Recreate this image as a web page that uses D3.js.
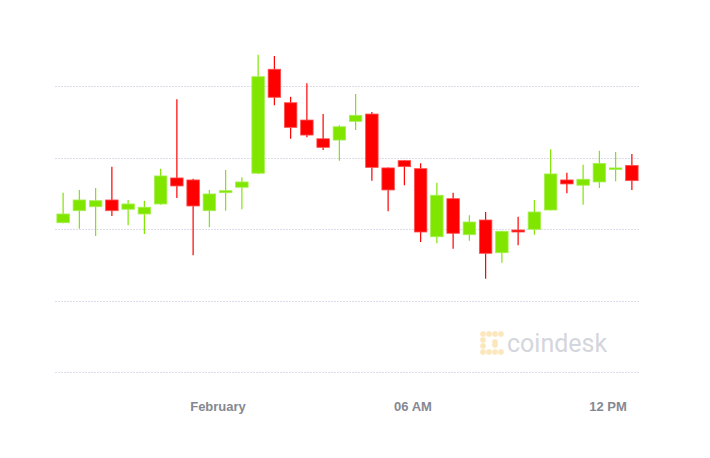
<!DOCTYPE html>
<html><head><meta charset="utf-8">
<script src="https://cdn.jsdelivr.net/npm/d3@7"></script>
<style>
html,body{margin:0;padding:0;background:#fff;}
svg{display:block;}
</style></head>
<body>
<svg id="chart" width="710" height="458"></svg>
<script>
// Half-hour candles starting Jan 31 19:00 UTC
const startTime = Date.UTC(2021, 0, 31, 19, 0);
const opens  = [34044,34128,34156,34203,34138,34105,34175,34357,34343,34128,34254,34292,34390,35117,34883,34762,34631,34622,34753,34804,34427,34478,34422,33946,34212,33960,34063,33834,33993,33998,34133,34343,34306,34329,34420,34445];
const highs  = [34254,34273,34287,34436,34203,34198,34422,34907,34352,34273,34413,34362,35219,35210,34925,35019,34804,34725,34944,34818,34430,34480,34459,34324,34254,34096,34119,33988,34086,34203,34557,34394,34450,34548,34538,34524];
const lows   = [34040,34002,33951,34091,34026,33965,34170,34217,33816,34012,34128,34138,34385,34865,34631,34641,34552,34478,34692,34338,34124,34306,33909,33900,33862,33918,33652,33764,33886,33960,34130,34250,34170,34287,34334,34273];
const closes = [34105,34203,34198,34128,34175,34152,34371,34301,34161,34245,34268,34329,35065,34921,34711,34657,34571,34715,34795,34431,34273,34436,33979,34236,33970,34049,33830,33984,33979,34119,34385,34315,34348,34459,34427,34338];
const gridValues = [35000, 34500, 34000, 33500, 33000];
const tickTimes = [Date.UTC(2021,1,1,0), Date.UTC(2021,1,1,6), Date.UTC(2021,1,1,12)];
const tickLabels = ["February", "06 AM", "12 PM"];

const HALF = 30*60*1000;
const candles = opens.map((o,i)=>({t:new Date(startTime + i*HALF), o, h:highs[i], l:lows[i], c:closes[i]}));

const svg = d3.select("#chart");
const x = d3.scaleUtc()
  .domain([new Date(startTime), new Date(Date.UTC(2021,1,1,13))])
  .range([55, 640]);
const y = d3.scaleLinear().domain([33000, 35000]).range([372, 86]);

// grid
svg.append("g").selectAll("line").data(gridValues).join("line")
  .attr("x1", 55).attr("x2", 640)
  .attr("y1", d=>Math.round(y(d))+0.5).attr("y2", d=>Math.round(y(d))+0.5)
  .attr("stroke", "#dcdcea").attr("stroke-width", 1)
  .attr("stroke-dasharray", "2,1");

// watermark
const wm = svg.append("g").attr("transform", "translate(480,331)");
const dots = [[3,3],[9,3],[15,3],[21,3],[3,9],[3,15],[3,21],[9,21],[15,21],[21,21],[15,11],[15,14]];
wm.selectAll("rect").data(dots).join("rect")
  .attr("x", d=>d[0]-2.8).attr("y", d=>d[1]-2.8).attr("width",5.6).attr("height",5.6).attr("rx",2.2)
  .attr("fill", "#fce7bd");
wm.append("text").attr("x", 27).attr("y", 21)
  .attr("font-family", "Roboto, 'Open Sans', sans-serif").attr("font-size", 25)
  .attr("fill", "#d4d6dc").text("coindesk");

// candles
const bw = 12.5;
const halfStep = (x(new Date(startTime + HALF)) - x(new Date(startTime))) / 2;
const g = svg.append("g");
const col = d => d.c >= d.o ? "#80e600" : "#ff0000";
g.selectAll("line").data(candles).join("line")
  .attr("x1", d=>x(d.t)+halfStep).attr("x2", d=>x(d.t)+halfStep)
  .attr("y1", d=>y(d.h)).attr("y2", d=>y(d.l))
  .attr("stroke", col).attr("stroke-width", 1.2);
g.selectAll("rect").data(candles).join("rect")
  .attr("x", d=>x(d.t)+halfStep-bw/2)
  .attr("width", bw)
  .attr("y", d=>y(Math.max(d.o,d.c)))
  .attr("height", d=>Math.max(1.5, Math.abs(y(d.o)-y(d.c))))
  .attr("fill", col)
  .attr("stroke", d=>d.c>=d.o ? "#a6ef4f" : "#ff5050").attr("stroke-width", 0.8);

// x axis labels
const axis = d3.axisBottom(x).tickValues(tickTimes.map(t=>new Date(t)))
  .tickFormat((d,i)=>tickLabels[i]).tickSize(0).tickPadding(0);
const ax = svg.append("g").attr("transform", "translate(0,402)").call(axis);
ax.select(".domain").remove();
ax.selectAll("text").attr("font-family", "'Helvetica Neue', Arial, 'Liberation Sans', sans-serif")
  .attr("font-size", 13).attr("font-weight", "bold").attr("fill", "#858892");
</script>
</body></html>
